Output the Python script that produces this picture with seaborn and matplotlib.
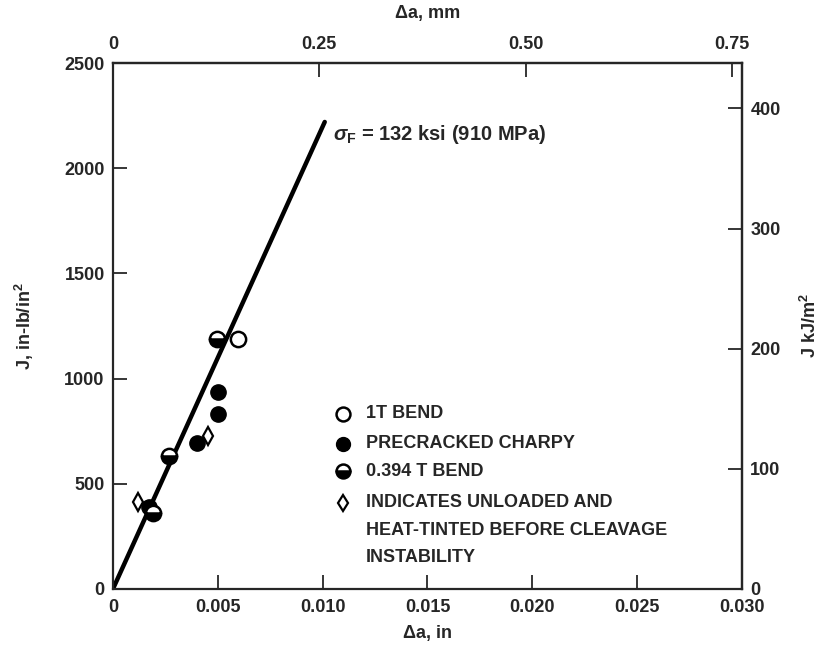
import matplotlib
matplotlib.use("Agg")
import matplotlib.pyplot as plt
import seaborn as sns
import pandas as pd

# Crack extension (in) and J (in-lb/in^2)
one_t_x = [0.00595]
one_t_j = [1190]

charpy_x = [0.0050, 0.0050, 0.0040, 0.00171]
charpy_j = [938, 833, 695, 390]

bend394_x = [0.00495, 0.00267, 0.0019]
bend394_j = [1190, 633, 362]

tinted_x = [0.00452, 0.00119]
tinted_j = [729, 414]

# blunting line, sigma_F = 132 ksi
line_x = [0.0, 0.0101]
line_j = [0.0, 2220]

legend_labels = ["1T BEND", "PRECRACKED CHARPY", "0.394 T BEND",
                 ["INDICATES UNLOADED AND", "HEAT-TINTED BEFORE CLEAVAGE",
                  "INSTABILITY"]]

KJ_PER_INLB = 0.1751
MM_PER_IN = 25.4
FS = 13

sns.set_theme(style="ticks")
plt.rcParams["font.family"] = ["Liberation Sans", "DejaVu Sans"]
plt.rcParams["font.weight"] = "bold"
plt.rcParams["mathtext.fontset"] = "custom"
plt.rcParams["mathtext.rm"] = "Liberation Sans:bold"
plt.rcParams["mathtext.it"] = "Liberation Sans:italic:bold"
plt.rcParams["mathtext.bf"] = "Liberation Sans:bold"

fig = plt.figure(figsize=(8.27, 6.5), dpi=100)
ax = fig.add_axes([0.1366, 0.094, 0.7606, 0.809])

line_df = pd.DataFrame({"x": line_x, "j": line_j})
sns.lineplot(data=line_df, x="x", y="j", ax=ax, color="black", lw=3.2, zorder=2)

ms = 11
ax.plot(one_t_x, one_t_j, ls="none", marker="o", ms=ms, mfc="white",
        mec="black", mew=1.8, zorder=3)
ax.plot(charpy_x, charpy_j, ls="none", marker="o", ms=ms, mfc="black",
        mec="black", zorder=3)
ax.plot(bend394_x, bend394_j, ls="none", marker="o", ms=ms, fillstyle="bottom",
        mfc="black", mfcalt="white", mec="black", mew=1.8, zorder=3)
ax.plot(tinted_x, tinted_j, ls="none", marker="d", ms=9, mfc="white",
        mec="black", mew=1.6, zorder=4)

ax.set_xlim(0, 0.030)
ax.set_ylim(0, 2500)
ax.set_xticks([0, 0.005, 0.010, 0.015, 0.020, 0.025, 0.030])
ax.set_xticklabels(["0", "0.005", "0.010", "0.015", "0.020", "0.025", "0.030"])
ax.set_yticks([0, 500, 1000, 1500, 2000, 2500])
ax.tick_params(direction="in", length=10, width=1.3, labelsize=FS, pad=7)
ax.tick_params(axis="y", pad=6)
for s in ax.spines.values():
    s.set_linewidth(1.6)
    s.set_visible(True)
ax.set_xlabel("")
ax.set_ylabel("")

top = ax.secondary_xaxis("top", functions=(lambda x: x * MM_PER_IN,
                                           lambda m: m / MM_PER_IN))
top.set_xticks([0, 0.25, 0.50, 0.75])
top.set_xticklabels(["0", "0.25", "0.50", "0.75"])
top.tick_params(direction="in", length=10, width=1.3, labelsize=FS, pad=7)
top.spines["top"].set_linewidth(1.6)

right = ax.secondary_yaxis("right", functions=(lambda j: j * KJ_PER_INLB,
                                               lambda k: k / KJ_PER_INLB))
right.set_yticks([0, 100, 200, 300, 400])
right.tick_params(direction="in", length=10, width=1.3, labelsize=FS, pad=6)
right.spines["right"].set_linewidth(1.6)

ax.text(0.5, -0.084, "\u0394a, in", transform=ax.transAxes, ha="center",
        va="center", fontsize=FS, fontweight="bold")
ax.text(0.5, 1.095, "\u0394a, mm", transform=ax.transAxes, ha="center",
        va="center", fontsize=FS, fontweight="bold")
ax.text(-0.14, 0.5, "J, in-lb/in$^2$", transform=ax.transAxes, ha="center",
        va="center", rotation=90, fontsize=FS, fontweight="bold")
ax.text(1.108, 0.5, "J kJ/m$^2$", transform=ax.transAxes, ha="center",
        va="center", rotation=90, fontsize=FS, fontweight="bold")

ax.text(0.01048, 2160, r"$\sigma_{\mathrm{F}}$ = 132 ksi (910 MPa)", ha="left",
        va="center", fontsize=14.5, fontweight="bold")

# legend drawn by hand so the diamond sits on the first text line
leg_mx, leg_tx = 0.366, 0.402
leg_y = [0.333, 0.276, 0.224, 0.1635]
line_step = 0.0515
leg_styles = [
    dict(marker="o", ms=10, mfc="white", mec="black", mew=1.8),
    dict(marker="o", ms=10, mfc="black", mec="black"),
    dict(marker="o", ms=10, fillstyle="bottom", mfc="black", mfcalt="white",
         mec="black", mew=1.8),
    dict(marker="d", ms=8, mfc="white", mec="black", mew=1.6),
]
for y, lab, st in zip(leg_y, legend_labels, leg_styles):
    ax.plot([leg_mx], [y], ls="none", transform=ax.transAxes, clip_on=False, **st)
    lines = lab if isinstance(lab, list) else [lab]
    for i, txt in enumerate(lines):
        ax.text(leg_tx, y - i * line_step, txt, transform=ax.transAxes,
                ha="left", va="center", fontsize=FS, fontweight="bold")

fig.savefig("out.png", dpi=100)
plt.close(fig)
